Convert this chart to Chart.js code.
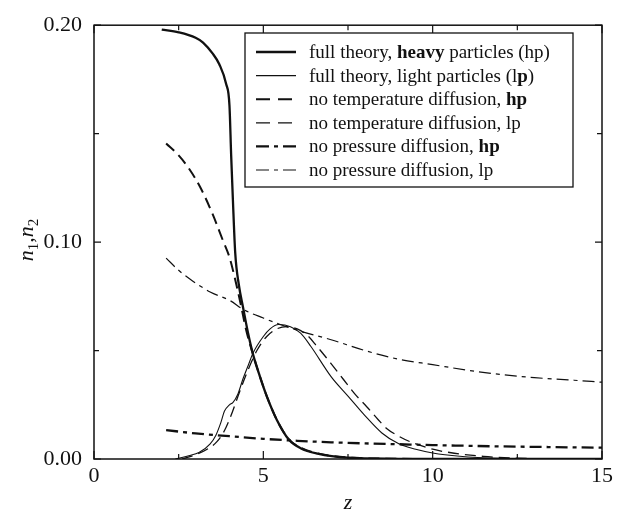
<!DOCTYPE html>
<html>
<head>
<meta charset="utf-8">
<script src="https://cdn.jsdelivr.net/npm/chart.js@4.4.1/dist/chart.umd.min.js"></script>
<style>
  html, body { margin: 0; padding: 0; background: #fff; }
  #wrap { width: 619px; height: 516px; }
</style>
</head>
<body>
<div id="wrap"><canvas id="c" width="619" height="516"></canvas></div>
<script>
// ---------- data ----------
const zHpFull = [2.0, 2.5, 3.0, 3.22, 3.5, 3.7, 3.9, 4.0, 4.05, 4.1, 4.17, 4.28, 4.4, 4.55, 4.7, 4.9, 5.1, 5.4, 5.75, 6.1, 6.6, 7.5, 9.0, 10.0, 15.0];
const nHpFull = [0.198, 0.1967, 0.1942, 0.192, 0.187, 0.182, 0.173, 0.163, 0.140, 0.120, 0.095, 0.080, 0.070, 0.058, 0.048, 0.038, 0.029, 0.018, 0.009, 0.005, 0.0025, 0.0006, 0.0001, 0, 0];

const zLpFull = [2.4, 2.8, 3.1, 3.43, 3.6, 3.75, 3.85, 4.0, 4.1, 4.25, 4.4, 4.55, 4.7, 5.0, 5.2, 5.45, 5.8, 6.1, 6.4, 7.0, 7.5, 8.0, 8.5, 9.0, 9.5, 10.0, 10.8, 12.0, 13.0, 14.0, 15.0];
const nLpFull = [0, 0.0015, 0.003, 0.007, 0.011, 0.017, 0.022, 0.025, 0.026, 0.030, 0.037, 0.043, 0.049, 0.0565, 0.060, 0.062, 0.061, 0.058, 0.052, 0.038, 0.029, 0.020, 0.012, 0.007, 0.0045, 0.0028, 0.0013, 0.0003, 0.0001, 0, 0];

const zHpNoTemp = [2.13, 2.5, 2.8, 3.13, 3.5, 3.8, 4.0, 4.15, 4.31, 4.5, 4.7, 4.9, 5.1, 5.4, 5.75, 6.1, 6.6, 7.5, 9.0, 10.0, 15.0];
const nHpNoTemp = [0.1455, 0.140, 0.134, 0.1255, 0.113, 0.101, 0.093, 0.084, 0.073, 0.059, 0.048, 0.038, 0.029, 0.018, 0.0092, 0.0052, 0.0026, 0.0007, 0.0001, 0, 0];

const zLpNoTemp = [2.6, 3.0, 3.34, 3.63, 3.85, 4.02, 4.3, 4.52, 4.81, 5.1, 5.4, 5.7, 6.0, 6.3, 6.58, 7.0, 7.35, 7.7, 8.06, 8.4, 8.65, 9.0, 9.33, 10.0, 10.5, 11.5, 12.5, 13.5, 15.0];
const nLpNoTemp = [0, 0.002, 0.0045, 0.008, 0.013, 0.019, 0.031, 0.040, 0.050, 0.0565, 0.060, 0.061, 0.060, 0.057, 0.052, 0.044, 0.037, 0.030, 0.024, 0.018, 0.014, 0.0105, 0.008, 0.0045, 0.003, 0.0012, 0.0004, 0.0001, 0];

const zHpNoPress = [2.13, 3, 4, 5, 6, 7, 8, 9, 10, 11, 12, 13, 14, 15];
const nHpNoPress = [0.0133, 0.0118, 0.0105, 0.0093, 0.0084, 0.0077, 0.0072, 0.0068, 0.0064, 0.0061, 0.0058, 0.0056, 0.0054, 0.0052];

const zLpNoPress = [2.13, 2.5, 2.92, 3.43, 4.02, 4.4, 5.0, 5.5, 6.08, 7.0, 8.0, 9.0, 10.0, 11.0, 12.0, 13.0, 14.0, 15.0];
const nLpNoPress = [0.0926, 0.087, 0.082, 0.077, 0.073, 0.069, 0.065, 0.062, 0.059, 0.055, 0.050, 0.046, 0.0435, 0.041, 0.039, 0.0375, 0.0365, 0.0354];

const xTickLabels = [0, 5, 10, 15];
const yTickLabels = [0.00, 0.10, 0.20];

const legendRows = [
  [["full theory, ", false], ["heavy", true], [" particles (hp)", false]],
  [["full theory, light particles (l", false], ["p", true], [")", false]],
  [["no temperature diffusion, ", false], ["hp", true]],
  [["no temperature diffusion, lp", false]],
  [["no pressure diffusion, ", false], ["hp", true]],
  [["no pressure diffusion, lp", false]]
];
// ---------------------------------------------------

const pts = (zs, ns) => zs.map((z, i) => ({ x: z, y: ns[i] }));
const INK = '#111';
const SERIF = '"Liberation Serif", "DejaVu Serif", serif';

const styles = [
  { w: 2.3, dash: [] },
  { w: 1.1, dash: [] },
  { w: 2.0, dash: [11, 6] },
  { w: 1.3, dash: [11, 6] },
  { w: 2.3, dash: [12, 5, 4, 5] },
  { w: 1.2, dash: [12, 5, 4, 5] }
];

const series = [
  pts(zHpFull, nHpFull),
  pts(zLpFull, nLpFull),
  pts(zHpNoTemp, nHpNoTemp),
  pts(zLpNoTemp, nLpNoTemp),
  pts(zHpNoPress, nHpNoPress),
  pts(zLpNoPress, nLpNoPress)
];

const datasets = series.map((d, i) => ({
  data: d,
  borderColor: INK,
  borderWidth: styles[i].w,
  borderDash: styles[i].dash,
  pointRadius: 0,
  fill: false,
  cubicInterpolationMode: 'monotone'
}));

const framePlugin = {
  id: 'frame',
  afterDraw(chart) {
    const ctx = chart.ctx;
    const a = chart.chartArea;
    const xs = chart.scales.x, ys = chart.scales.y;
    ctx.save();
    ctx.strokeStyle = INK;
    ctx.lineWidth = 1.5;
    ctx.setLineDash([]);
    ctx.strokeRect(a.left, a.top, a.right - a.left, a.bottom - a.top);
    ctx.lineWidth = 1.2;
    xs.ticks.forEach(t => {
      const px = xs.getPixelForValue(t.value);
      const major = xTickLabels.includes(t.value);
      const L = major ? 8 : 5;
      ctx.beginPath();
      ctx.moveTo(px, a.bottom); ctx.lineTo(px, a.bottom - L);
      ctx.moveTo(px, a.top); ctx.lineTo(px, a.top + L);
      ctx.stroke();
    });
    ys.ticks.forEach(t => {
      const py = ys.getPixelForValue(t.value);
      const major = yTickLabels.some(v => Math.abs(v - t.value) < 1e-9);
      const L = major ? 7 : 5;
      ctx.beginPath();
      ctx.moveTo(a.left, py); ctx.lineTo(a.left + L, py);
      ctx.moveTo(a.right, py); ctx.lineTo(a.right - L, py);
      ctx.stroke();
    });

    // axis titles
    ctx.fillStyle = INK;
    ctx.textBaseline = 'alphabetic';
    ctx.textAlign = 'left';
    ctx.font = 'italic 22px ' + SERIF;
    const zw = ctx.measureText('z').width;
    ctx.fillText('z', (a.left + a.right) / 2 - zw / 2, 509);

    // y title: n1,n2 rotated
    const parts = [
      ['n', 'italic 22px ' + SERIF, 0],
      ['1', '15px ' + SERIF, 5],
      [',', '22px ' + SERIF, 0],
      ['n', 'italic 22px ' + SERIF, 0],
      ['2', '15px ' + SERIF, 5]
    ];
    let total = 0;
    parts.forEach(p => { ctx.font = p[1]; total += ctx.measureText(p[0]).width; });
    ctx.translate(33, 240);
    ctx.rotate(-Math.PI / 2);
    let cx = -total / 2;
    parts.forEach(p => {
      ctx.font = p[1];
      ctx.fillText(p[0], cx, p[2]);
      cx += ctx.measureText(p[0]).width;
    });
    ctx.restore();

    // legend
    ctx.save();
    const fs = 19;
    const rowY0 = 52, rowH = 23.6;
    const boxL = 245, boxT = 33, boxR = 573;
    const lineX0 = 256, lineX1 = 296, textX = 309;
    const boxB = rowY0 + rowH * 5 + 17;
    ctx.fillStyle = '#fff';
    ctx.fillRect(boxL, boxT, boxR - boxL, boxB - boxT);
    ctx.strokeStyle = INK;
    ctx.lineWidth = 1.3;
    ctx.strokeRect(boxL, boxT, boxR - boxL, boxB - boxT);
    legendRows.forEach((r, i) => {
      const y = rowY0 + i * rowH;
      ctx.beginPath();
      ctx.lineWidth = styles[i].w;
      ctx.setLineDash(styles[i].dash.length ? (i < 4 ? [14, 8] : [13, 5, 4, 5]) : []);
      ctx.moveTo(lineX0, y); ctx.lineTo(lineX1, y);
      ctx.stroke();
      ctx.setLineDash([]);
      let x = textX;
      ctx.fillStyle = INK;
      ctx.textBaseline = 'middle';
      r.forEach(s => {
        ctx.font = (s[1] ? 'bold ' : '') + fs + 'px ' + SERIF;
        ctx.fillText(s[0], x, y + 1);
        x += ctx.measureText(s[0]).width;
      });
    });
    ctx.restore();
  }
};

new Chart(document.getElementById('c'), {
  type: 'line',
  data: { datasets },
  options: {
    responsive: false,
    animation: false,
    events: [],
    layout: { padding: { left: 0, top: 15, right: 17, bottom: 0 } },
    plugins: { legend: { display: false }, tooltip: { enabled: false } },
    scales: {
      x: {
        type: 'linear', min: 0, max: 15,
        grid: { display: false, drawTicks: false },
        border: { display: false },
        afterFit: s => { s.height = 57; },
        ticks: {
          stepSize: 2.5, autoSkip: false, maxRotation: 0, padding: 4,
          color: INK, font: { family: SERIF, size: 22 },
          callback: v => xTickLabels.includes(v) ? String(v) : ''
        }
      },
      y: {
        type: 'linear', min: 0, max: 0.2,
        grid: { display: false, drawTicks: false },
        border: { display: false },
        afterFit: s => { s.width = 94; },
        ticks: {
          stepSize: 0.05, autoSkip: false, padding: 12,
          color: INK, font: { family: SERIF, size: 22 },
          callback: v => yTickLabels.some(t => Math.abs(t - v) < 1e-9) ? v.toFixed(2) : ''
        }
      }
    }
  },
  plugins: [framePlugin]
});
</script>
</body>
</html>
